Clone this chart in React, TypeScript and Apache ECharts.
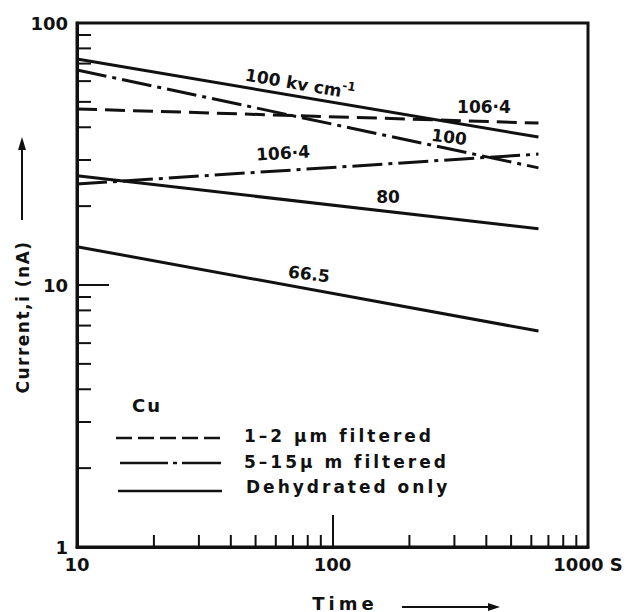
import React, { useEffect, useRef } from "react";
import * as echarts from "echarts";

// ---- data ----
const timeStart = 10; // s
const timeEnd = 640; // s
const dehydrated100 = [72.9, 36.7]; // nA at timeStart, timeEnd
const dehydrated80 = [26.1, 16.4];
const dehydrated66 = [14.0, 6.67];
const filtered12_106 = [47.0, 41.5];
const filtered515_100 = [66.2, 28.0];
const filtered515_106 = [24.3, 31.6];
const xMinorTicks = [20, 30, 40, 50, 60, 70, 80, 90, 200, 300, 400, 500, 600, 700, 800, 900];
const yMinorTicks = [2, 3, 4, 5, 6, 7, 8, 9, 20, 30, 40, 50, 60, 70, 80, 90];
const xTickLabels: Record<number, string> = { 10: "10", 100: "100", 1000: "1000 S" };
const yTickLabels: Record<number, string> = { 1: "1", 10: "10", 100: "100" };

const INK = "#111";
const FONT = "DejaVu Sans";

const DASHED = [20, 8];
const DASHDOT = [30, 6, 4, 6];

// extra letter spacing for the lettering-style texts of the original
const SPACING: Record<string, string> = {
  "1–2 μm filtered": "3px",
  "5–15μ m filtered": "3px",
  "Dehydrated only": "3px",
  "Cu": "2px",
  "Time": "4px",
  "Current,i (nA)": "1.5px",
};

function lineSeries(name: string, vals: number[], type: any) {
  return {
    type: "line",
    name,
    data: [
      [timeStart, vals[0]],
      [timeEnd, vals[1]],
    ],
    showSymbol: false,
    symbol: "none",
    silent: true,
    lineStyle: { color: INK, width: 3, type },
  };
}

export default function App() {
  const ref = useRef<HTMLDivElement>(null);
  useEffect(() => {
    document.body.style.margin = "0";
    const chart = echarts.init(ref.current!, null, { renderer: "svg" });
    const txt = (text: string, x: number, y: number, extra: any = {}, rot = 0) => ({
      type: "text",
      x,
      y,
      rotation: rot,
      style: {
        text,
        fill: INK,
        font: extra.font || `bold 17px "${FONT}"`,
        align: extra.align || "center",
        verticalAlign: "middle",
        rich: extra.rich,
      },
      silent: true,
    });
    chart.setOption({
      animation: false,
      backgroundColor: "#fff",
      grid: {
        left: 77,
        right: 40,
        top: 23,
        bottom: 65,
        show: true,
        borderColor: INK,
        borderWidth: 3,
        containLabel: false,
        outerBoundsMode: "none",
      },
      xAxis: {
        type: "log",
        logBase: 10,
        min: 10,
        max: 1000,
        axisLine: { show: true, lineStyle: { color: INK, width: 3 } },
        axisTick: { show: true, inside: true, length: 32, lineStyle: { color: INK, width: 2 } },
        axisLabel: {
          formatter: (v: number) => xTickLabels[Math.round(v)] ?? "",
          fontSize: 18,
          fontWeight: "bold",
          color: INK,
          fontFamily: FONT,
          margin: 8,
        },
        splitLine: { show: false },
      },
      yAxis: {
        type: "log",
        logBase: 10,
        min: 1,
        max: 100,
        axisLine: { show: true, lineStyle: { color: INK, width: 3 } },
        axisTick: { show: true, inside: true, length: 32, lineStyle: { color: INK, width: 2 } },
        axisLabel: {
          formatter: (v: number) => yTickLabels[Math.round(v)] ?? "",
          fontSize: 18,
          fontWeight: "bold",
          color: INK,
          fontFamily: FONT,
          margin: 9,
        },
        splitLine: { show: false },
      },
      series: [
        lineSeries("Dehydrated 100", dehydrated100, "solid"),
        lineSeries("Dehydrated 80", dehydrated80, "solid"),
        lineSeries("Dehydrated 66.5", dehydrated66, "solid"),
        lineSeries("1-2 um 106.4", filtered12_106, DASHED),
        lineSeries("5-15 um 100", filtered515_100, DASHDOT),
        lineSeries("5-15 um 106.4", filtered515_106, DASHDOT),
        {
          type: "custom",
          silent: true,
          clip: false,
          data: xMinorTicks.map((v) => [v, 1]),
          renderItem: (_p: any, api: any) => {
            const p = api.coord([api.value(0), 1]);
            return {
              type: "line",
              shape: { x1: p[0], y1: p[1], x2: p[0], y2: p[1] - 12 },
              style: { stroke: INK, lineWidth: 2 },
            };
          },
        },
        {
          type: "custom",
          silent: true,
          clip: false,
          data: yMinorTicks.map((v) => [10, v]),
          renderItem: (_p: any, api: any) => {
            const p = api.coord([10, api.value(1)]);
            return {
              type: "line",
              shape: { x1: p[0], y1: p[1], x2: p[0] + 14, y2: p[1] },
              style: { stroke: INK, lineWidth: 2 },
            };
          },
        },
      ],
      graphic: [
        // line labels
        txt("100 kv cm{sup|-1}", 300, 84, {
          rich: { sup: { fontSize: 12, fontWeight: "bold", fontFamily: FONT, padding: [0, 0, 12, 0] } },
          font: `bold 17px "${FONT}"`,
        }, -0.17),
        txt("106·4", 484, 107),
        txt("100", 449, 137, {}, -0.12),
        txt("106·4", 283, 153, {}, 0.06),
        txt("80", 388, 197),
        txt("66.5", 309, 274, {}, -0.12),
        // legend
        txt("Cu", 147, 405, { font: `bold 18px "${FONT}"` }),
        {
          type: "line",
          shape: { x1: 116, y1: 438, x2: 220, y2: 438 },
          style: { stroke: INK, lineWidth: 2.5, lineDash: [16, 6] },
          silent: true,
        },
        {
          type: "line",
          shape: { x1: 120, y1: 463, x2: 221, y2: 463 },
          style: { stroke: INK, lineWidth: 2.5, lineDash: [48, 5, 4, 5] },
          silent: true,
        },
        {
          type: "line",
          shape: { x1: 118, y1: 491, x2: 222, y2: 491 },
          style: { stroke: INK, lineWidth: 2.5 },
          silent: true,
        },
        txt("1–2 μm filtered", 244, 436, { align: "left", font: `bold 17px "${FONT}"` }),
        txt("5–15μ m filtered", 244, 462, { align: "left", font: `bold 17px "${FONT}"` }),
        txt("Dehydrated only", 246, 487, { align: "left", font: `bold 17px "${FONT}"` }),
        // axis titles
        txt("Time", 345, 603, { font: `bold 18px "${FONT}"` }),
        {
          type: "line",
          shape: { x1: 402, y1: 607, x2: 492, y2: 607 },
          style: { stroke: INK, lineWidth: 2 },
          silent: true,
        },
        {
          type: "polygon",
          shape: { points: [[500, 607], [488, 603], [488, 611]] },
          style: { fill: INK },
          silent: true,
        },
        txt("Current,i (nA)", 23, 317, { font: `bold 17px "${FONT}"` }, Math.PI / 2),
        {
          type: "line",
          shape: { x1: 22, y1: 220, x2: 22, y2: 148 },
          style: { stroke: INK, lineWidth: 2 },
          silent: true,
        },
        {
          type: "polygon",
          shape: { points: [[22, 137], [18, 150], [26, 150]] },
          style: { fill: INK },
          silent: true,
        },
      ],
    });
    // widen the lettering, as in the original drawing
    ref.current!.querySelectorAll("text").forEach((t) => {
      const s = SPACING[t.textContent || ""];
      if (s) t.setAttribute("letter-spacing", s);
    });
    return () => chart.dispose();
  }, []);
  return <div ref={ref} style={{ width: 628, height: 612 }} />;
}
